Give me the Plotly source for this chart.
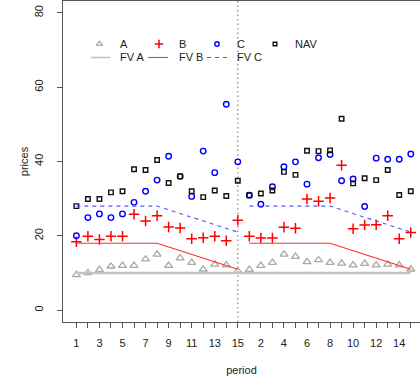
import plotly.graph_objects as go

# Two sessions of 15 trading periods each, plotted side by side
period_labels = list(range(1, 16)) + list(range(1, 16))
positions = list(range(1, 31))

# Observed prices of the three assets and the fund's NAV
price_a = [9.5, 10.0, 10.9, 11.8, 12.0, 12.0, 13.7, 15.0, 12.0, 14.0, 12.8, 11.0, 12.3, 12.1, 10.5,
           10.9, 12.0, 12.8, 15.0, 14.4, 13.0, 13.5, 12.8, 12.6, 12.1, 12.5, 12.1, 12.3, 12.1, 11.0]
price_b = [18.4, 19.9, 19.0, 19.9, 19.9, 25.8, 24.0, 25.4, 22.4, 22.1, 19.2, 19.5, 19.9, 18.7, 24.2,
           19.9, 19.4, 19.4, 22.3, 22.0, 29.9, 29.3, 30.2, 39.0, 21.9, 22.9, 23.0, 25.4, 19.2, 20.9]
price_c = [20.0, 24.9, 25.9, 24.9, 25.9, 29.0, 32.0, 35.0, 41.4, 36.0, 30.6, 42.8, 37.0, 55.4, 39.9,
           30.9, 28.5, 33.2, 38.6, 39.9, 33.9, 41.0, 41.9, 34.8, 35.3, 27.9, 40.9, 40.6, 40.6, 42.0]
nav = [28.0, 29.9, 29.9, 31.7, 32.0, 37.9, 37.7, 40.4, 34.2, 36.0, 32.0, 30.4, 32.2, 30.7, 34.8,
       30.9, 31.4, 32.2, 37.2, 36.4, 42.9, 42.8, 43.0, 51.5, 34.1, 35.5, 35.0, 37.7, 31.0, 32.0]

# Fundamental values within one session (same schedule in both sessions)
fv_a = [10] * 15
fv_b = [18, 18, 18, 18, 18, 18, 18, 18, 17, 16, 15, 14, 13, 12, 11]
fv_c = [28, 28, 28, 28, 28, 28, 28, 28, 27, 26, 25, 24, 23, 22, 21]

session_break = 15

FONT = "Liberation Sans, Arial, sans-serif"
AXIS_COLOR = "#555555"
TEXT_COLOR = "#222222"

W, H = 420, 381
M_L, M_R, M_T, M_B = 63, 0, 1, 59
PLOT_W = W - M_L - M_R
PLOT_H = H - M_T - M_B

STYLE = {
    "A": dict(symbol="triangle-up-open", color="#a8a8a8", size=7, lw=1.3),
    "B": dict(symbol="cross-thin-open", color="#ff0000", size=7.5, lw=1.5),
    "C": dict(symbol="circle-open", color="#0000ff", size=5.5, lw=1.4),
    "NAV": dict(symbol="square-open", color="#111111", size=4.5, lw=1.4),
}
LINE_STYLE = {
    "FV A": dict(color="#c4c4c4", width=2.6, dash="solid"),
    "FV B": dict(color="#ff3030", width=1.1, dash="solid"),
    "FV C": dict(color="#5555ff", width=1.1, dash="4px,4px"),
}


def two_sessions(values):
    """Repeat a per-session series for both sessions, with a gap between them."""
    xs = positions[:15] + [None] + positions[15:]
    ys = list(values) + [None] + list(values)
    return xs, ys


def marker(name, scale=1.0):
    s = STYLE[name]
    return dict(symbol=s["symbol"], size=s["size"] * scale, color=s["color"],
                line=dict(width=s["lw"], color=s["color"]))


fig = go.Figure()

for name, values in [("A", price_a), ("B", price_b), ("C", price_c), ("NAV", nav)]:
    fig.add_trace(go.Scatter(x=positions, y=values, mode="markers", name=name,
                             marker=marker(name), hoverinfo="x+y+name"))

fig.add_trace(go.Scatter(x=positions, y=fv_a + fv_a, mode="lines", name="FV A",
                         line=LINE_STYLE["FV A"]))
xb, yb = two_sessions(fv_b)
fig.add_trace(go.Scatter(x=xb, y=yb, mode="lines", name="FV B", line=LINE_STYLE["FV B"]))
xc, yc = two_sessions(fv_c)
fig.add_trace(go.Scatter(x=xc, y=yc, mode="lines", name="FV C", line=LINE_STYLE["FV C"]))

# Dotted separator between the two sessions
fig.add_shape(
    type="line", xref="x", yref="paper", x0=session_break, x1=session_break, y0=0, y1=1,
    line=dict(color="#a0a0a0", width=1.5, dash="1.5px,3px"), layer="below",
)


# Legend in two rows (symbols, then fundamental-value lines), drawn on an
# invisible overlay axis whose units are pixels of the plotting region.
def px_x(px):
    return (px - M_L) / PLOT_W


def px_y(py):
    return (H - M_B - py) / PLOT_H


legend_points = [("A", 99.5, 120), ("B", 159, 179), ("C", 217, 237), ("NAV", 275, 295)]
legend_lines = [("FV A", 91, 110, 120), ("FV B", 148, 168, 179), ("FV C", 207, 227, 237)]
ROW1_Y, ROW2_Y = 44, 57.5

for name, kx, tx in legend_points:
    fig.add_trace(go.Scatter(x=[px_x(kx)], y=[px_y(ROW1_Y)], xaxis="x2", yaxis="y2",
                             mode="markers", marker=marker(name, 0.8),
                             showlegend=False, hoverinfo="skip"))
    fig.add_annotation(x=px_x(tx), y=px_y(ROW1_Y), xref="paper", yref="paper", text=name,
                       showarrow=False, xanchor="left", yanchor="middle",
                       borderpad=0, borderwidth=0,
                       font=dict(family=FONT, size=11, color=TEXT_COLOR))

for name, x0, x1, tx in legend_lines:
    st = LINE_STYLE[name]
    fig.add_trace(go.Scatter(x=[px_x(x0), px_x(x1)], y=[px_y(ROW2_Y)] * 2, xaxis="x2", yaxis="y2",
                             mode="lines", line=dict(color=st["color"], width=min(st["width"], 1.6),
                                                     dash=st["dash"]),
                             showlegend=False, hoverinfo="skip"))
    fig.add_annotation(x=px_x(tx), y=px_y(ROW2_Y), xref="paper", yref="paper", text=name,
                       showarrow=False, xanchor="left", yanchor="middle",
                       borderpad=0, borderwidth=0,
                       font=dict(family=FONT, size=11, color=TEXT_COLOR))

tick_text = [str(lab) if i % 2 == 0 else "" for i, lab in enumerate(period_labels)]

fig.update_layout(
    width=W, height=H,
    margin=dict(l=M_L, r=M_R, t=M_T, b=M_B),
    paper_bgcolor="white", plot_bgcolor="white",
    font=dict(family=FONT, size=11, color=TEXT_COLOR),
    showlegend=False,
    xaxis=dict(
        range=[-0.16, 30.8], tickmode="array", tickvals=positions, ticktext=tick_text,
        ticks="outside", ticklen=5, tickwidth=1, tickcolor=AXIS_COLOR,
        showline=True, linecolor=AXIS_COLOR, linewidth=1, mirror=True,
        showgrid=False, zeroline=False, tickangle=0,
        tickfont=dict(family=FONT, size=11, color=TEXT_COLOR),
        ticklabelstandoff=6,
        title=dict(text="period", font=dict(family=FONT, size=11, color=TEXT_COLOR), standoff=18),
        automargin=False,
    ),
    yaxis=dict(
        range=[-3.2, 83.2], tickmode="array", tickvals=[0, 20, 40, 60, 80],
        ticks="outside", ticklen=5, tickwidth=1, tickcolor=AXIS_COLOR,
        showline=True, linecolor=AXIS_COLOR, linewidth=1, mirror=False,
        showgrid=False, zeroline=False, tickangle=-90,
        tickfont=dict(family=FONT, size=11, color=TEXT_COLOR),
        ticklabelstandoff=10,
        title=dict(text="prices", font=dict(family=FONT, size=11, color=TEXT_COLOR), standoff=1),
        automargin=False,
    ),
    xaxis2=dict(overlaying="x", range=[0, 1], visible=False, fixedrange=True),
    yaxis2=dict(overlaying="y", range=[0, 1], visible=False, fixedrange=True),
)

fig.write_html("out.html")
